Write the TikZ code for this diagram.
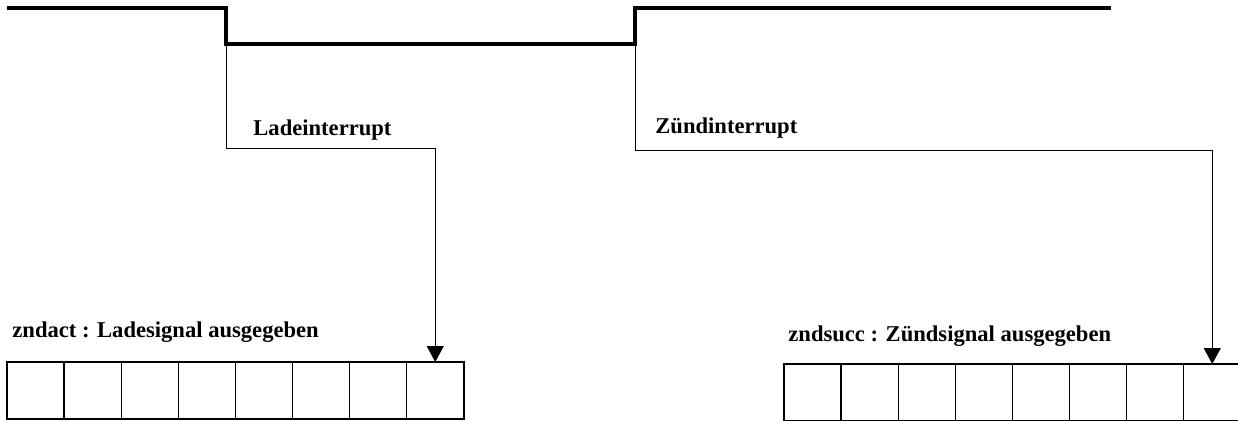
\documentclass[tikz,border=0pt]{standalone}
\usepackage{fontspec}
\setmainfont{Liberation Serif}
\usepackage{tikz}
\usetikzlibrary{arrows.meta, positioning}
\tikzstyle{arrow} = [line width=0.5pt, -{Triangle[width=8.5pt,length=8pt]}]
\usepackage{xcolor}

\begin{document}
\begin{tikzpicture}[
  x=0.5pt, y=-0.5pt,
  every node/.style={font=\fontsize{11.3}{13}\selectfont\bfseries},
  cell/.style={draw, rectangle, line width=0.7pt, inner sep=0pt, outer sep=0pt,
               minimum width=28.55pt, minimum height=28.5pt},
  signal/.style={line width=2.3pt, line join=miter},
  label/.style={anchor=base west, inner sep=0pt}
]
\clip (0,0) rectangle (1238,420);

% Signal
\coordinate (ldown) at (226,44);
\coordinate (zup)   at (635,44);
\draw[signal] (7,8) -- (226,8) -- (ldown) -- (zup) -- (635,8) -- (1111,8);

% Register zndact
\node[cell, anchor=north west] (l1) at (7,362) {};
\node[cell, right=0pt of l1] (l2) {};
\node[cell, right=0pt of l2] (l3) {};
\node[cell, right=0pt of l3] (l4) {};
\node[cell, right=0pt of l4] (l5) {};
\node[cell, right=0pt of l5] (l6) {};
\node[cell, right=0pt of l6] (l7) {};
\node[cell, right=0pt of l7] (l8) {};

% Register zndsucc
\node[cell, anchor=north west] (r1) at (784,364) {};
\node[cell, right=0pt of r1] (r2) {};
\node[cell, right=0pt of r2] (r3) {};
\node[cell, right=0pt of r3] (r4) {};
\node[cell, right=0pt of r4] (r5) {};
\node[cell, right=0pt of r5] (r6) {};
\node[cell, right=0pt of r6] (r7) {};
\node[cell, right=0pt of r7] (r8) {};

% Interrupt lines
\coordinate (lbend) at (226,148);
\coordinate (zbend) at (635,150);
\draw[arrow] (ldown) -- (lbend) -| (l8.north);
\draw[arrow] (zup) -- (zbend) -| (r8.north);

% Labels
\node[label] (lint) at (253,135) {Ladeinterrupt};
\node[label] (zint) at (655,133) {Zündinterrupt};
\node[label] (lreg) at (12,337) {zndact : Ladesignal ausgegeben};
\node[label] (zreg) at (788,341) {zndsucc : Zündsignal ausgegeben};
\end{tikzpicture}
\end{document}
